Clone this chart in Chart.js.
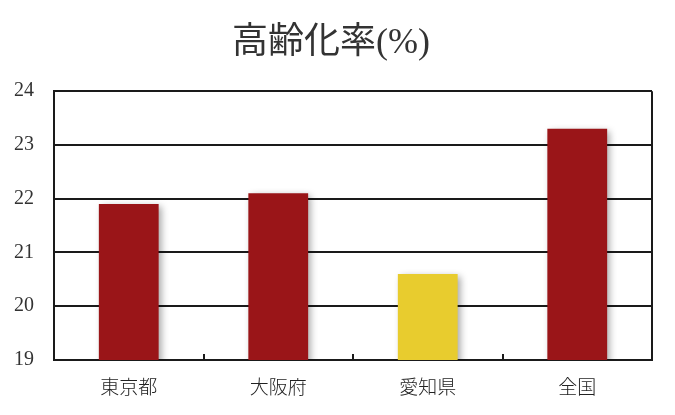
<!DOCTYPE html>
<html>
<head>
<meta charset="utf-8">
<script src="https://cdn.jsdelivr.net/npm/chart.js@4"></script>
<style>
  html, body { margin: 0; padding: 0; background: #fff; }
  #wrap { width: 675px; height: 415px; }
</style>
</head>
<body>
<div id="wrap"><canvas id="graph" width="675" height="415"></canvas></div>
<script>
const prefectures = ["東京都", "大阪府", "愛知県", "全国"];
const agingRate = [21.9, 22.1, 20.6, 23.3];
const barColors = ["#9a1518", "#9a1518", "#e8cc2e", "#9a1518"];
const yMin = 19;
const yMax = 24;

// shadow under the bars
const barShadow = {
    id: "barShadow",
    beforeDatasetsDraw(chart) {
        const ctx = chart.ctx;
        ctx.save();
        ctx.shadowColor = "rgba(0,0,0,0.35)";
        ctx.shadowBlur = 7;
        ctx.shadowOffsetX = 3;
        ctx.shadowOffsetY = 2;
    },
    afterDatasetsDraw(chart) {
        chart.ctx.restore();
    }
};

// right frame line and small upward ticks between categories
const frame = {
    id: "frame",
    afterDraw(chart) {
        const ctx = chart.ctx;
        const area = chart.chartArea;
        ctx.save();
        ctx.strokeStyle = "#1a1a1a";
        ctx.lineWidth = 2;
        ctx.beginPath();
        ctx.moveTo(area.right, area.top);
        ctx.lineTo(area.right, area.bottom);
        const step = (area.right - area.left) / prefectures.length;
        for (let i = 1; i <= prefectures.length; i++) {
            const px = Math.round(area.left + step * i);
            ctx.moveTo(px, area.bottom);
            ctx.lineTo(px, area.bottom - 6);
        }
        ctx.stroke();
        ctx.restore();
    }
};

const chart = new Chart(document.getElementById("graph"), {
    type: "bar",
    data: {
        labels: prefectures,
        datasets: [{
            label: "高齢化率",
            data: agingRate,
            backgroundColor: barColors,
            barPercentage: 0.8,
            categoryPercentage: 0.5
        }]
    },
    options: {
        responsive: false,
        animation: false,
        layout: { padding: { left: 10, right: 23, top: 10, bottom: 10 } },
        plugins: {
            legend: { display: false },
            tooltip: { enabled: false },
            title: {
                display: true,
                text: "高齢化率(%)",
                color: "#333",
                font: { family: "'Liberation Serif', 'Noto Sans CJK JP'", size: 36, weight: "normal" },
                padding: { top: 12, bottom: 26 }
            }
        },
        scales: {
            y: {
                min: yMin,
                max: yMax,
                ticks: {
                    stepSize: 1,
                    color: "#333",
                    padding: 20,
                    font: { family: "'Liberation Serif'", size: 20 }
                },
                grid: { color: "#1a1a1a", lineWidth: 2, drawTicks: false },
                border: { color: "#1a1a1a", width: 2 },
                afterFit(s) { s.width = 44; }
            },
            x: {
                ticks: {
                    color: "#222",
                    padding: 7,
                    font: { family: "'Noto Sans CJK JP'", size: 19, weight: 300 }
                },
                grid: { display: false },
                border: { color: "#1a1a1a", width: 2 },
                afterFit(s) { s.height = 45; }
            }
        }
    },
    plugins: [barShadow, frame]
});
</script>
</body>
</html>
